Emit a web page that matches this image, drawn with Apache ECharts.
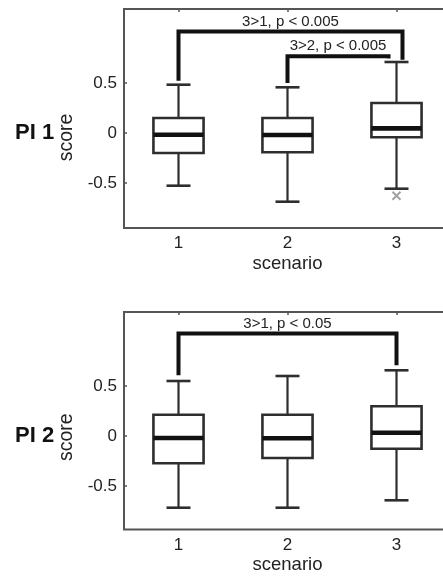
<!DOCTYPE html>
<html><head><meta charset="utf-8">
<script src="https://cdn.jsdelivr.net/npm/echarts@6/dist/echarts.min.js"></script>
<style>html,body{margin:0;padding:0;background:#fff}#c{width:443px;height:576px}</style>
</head><body><div id="c"></div>
<script>
// ---- data ----
const scenarios = [1, 2, 3];
const yTicks = [-0.5, 0, 0.5];
const panelNames = ['PI 1', 'PI 2'];

// PI 1 boxplot stats
const pi1Low  = [-0.527, -0.687, -0.557];
const pi1Q1   = [-0.200, -0.193, -0.043];
const pi1Med  = [-0.018, -0.020, 0.046];
const pi1Q3   = [0.150, 0.150, 0.300];
const pi1High = [0.483, 0.457, 0.710];
const pi1OutX = [3];
const pi1OutY = [-0.627];

// PI 2 boxplot stats
const pi2Low  = [-0.717, -0.717, -0.643];
const pi2Q1   = [-0.273, -0.220, -0.127];
const pi2Med  = [-0.020, -0.022, 0.032];
const pi2Q3   = [0.213, 0.213, 0.297];
const pi2High = [0.550, 0.600, 0.657];

// significance brackets (x from, x to, left leg end, right leg end, bar level, label)
const pi1BrFrom  = [1, 2];
const pi1BrTo    = [3.055, 2.927];
const pi1BrLeft  = [0.523, 0.500];
const pi1BrRight = [0.733, 0.745];
const pi1BrTop   = [1.016, 0.767];
const pi1BrText  = ['3>1, p < 0.005', '3>2, p < 0.005'];

const pi2BrFrom  = [1];
const pi2BrTo    = [3];
const pi2BrLeft  = [0.607];
const pi2BrRight = [0.707];
const pi2BrTop   = [1.024];
const pi2BrText  = ['3>1, p < 0.05'];

// ---- build ----
const FONT = "'Liberation Sans', Arial, Helvetica, sans-serif";
const DARK = '#2e2e2e';

function boxData(lo, q1, md, q3, hi) {
  return scenarios.map((x, i) => [x, lo[i], q1[i], md[i], q3[i], hi[i]]);
}
function brDataFull(f, t, l, r, top, txt) {
  return f.map((x, i) => [f[i], t[i], l[i], r[i], top[i], txt[i]]);
}

function renderBox(params, api) {
  const x = api.value(0);
  const lo = api.coord([x, api.value(1)]);
  const q1 = api.coord([x, api.value(2)]);
  const md = api.coord([x, api.value(3)]);
  const q3 = api.coord([x, api.value(4)]);
  const hi = api.coord([x, api.value(5)]);
  const bw = api.size([0.46, 0])[0];
  const cw = api.size([0.22, 0])[0];
  const cx = lo[0];
  const ls = { stroke: DARK, lineWidth: 2.2, fill: null };
  return {
    type: 'group',
    children: [
      { type: 'line', shape: { x1: cx, y1: q3[1], x2: cx, y2: hi[1] }, style: ls },
      { type: 'line', shape: { x1: cx, y1: q1[1], x2: cx, y2: lo[1] }, style: ls },
      { type: 'line', shape: { x1: cx - cw / 2, y1: hi[1], x2: cx + cw / 2, y2: hi[1] }, style: { stroke: DARK, lineWidth: 2.6 } },
      { type: 'line', shape: { x1: cx - cw / 2, y1: lo[1], x2: cx + cw / 2, y2: lo[1] }, style: { stroke: DARK, lineWidth: 2.6 } },
      { type: 'rect', shape: { x: cx - bw / 2, y: q3[1], width: bw, height: q1[1] - q3[1] }, style: { stroke: DARK, lineWidth: 2.6, fill: '#fff' } },
      { type: 'line', shape: { x1: cx - bw / 2, y1: md[1], x2: cx + bw / 2, y2: md[1] }, style: { stroke: '#111', lineWidth: 4.6 } }
    ]
  };
}

function renderBracket(params, api) {
  const f = api.value(0), t = api.value(1);
  const pL = api.coord([f, api.value(2)]);
  const pR = api.coord([t, api.value(3)]);
  const tL = api.coord([f, api.value(4)]);
  const tR = api.coord([t, api.value(4)]);
  return {
    type: 'group',
    children: [
      { type: 'polyline', shape: { points: [pL, tL, tR, pR] }, style: { stroke: '#111', lineWidth: 4, fill: null, lineJoin: 'miter' } },
      { type: 'text', style: { text: api.value(5), x: (tL[0] + tR[0]) / 2, y: tL[1] - 10, align: 'center', verticalAlign: 'middle', font: '15px ' + FONT, fill: '#222' } }
    ]
  };
}

const grids = [
  { left: 124, top: 9, width: 327, height: 219 },
  { left: 124, top: 312, width: 327, height: 217.5 }
];
const yRanges = [[-0.95, 1.24], [-0.935, 1.24]];
const tickStyle = { show: true, inside: true, length: 3, customValues: scenarios, lineStyle: { color: '#555', width: 1.5 } };

const option = {
  backgroundColor: '#fff',
  animation: false,
  grid: grids.map(g => Object.assign({ show: true, borderColor: '#555', borderWidth: 2, backgroundColor: 'transparent', containLabel: false, outerBoundsMode: 'none' }, g)),
  xAxis: [0, 1].map(i => ({
    gridIndex: i, type: 'value', min: 0.5, max: 3.5,
    name: 'scenario', nameLocation: 'middle', nameGap: 26,
    nameTextStyle: { fontFamily: FONT, fontSize: 18.5, color: '#222' },
    axisLine: { show: false },
    splitLine: { show: false },
    axisTick: tickStyle,
    axisLabel: { customValues: scenarios, margin: 7, fontFamily: FONT, fontSize: 17, color: '#222', formatter: v => String(v) }
  })).concat([0, 1].map(i => ({
    gridIndex: i, type: 'value', min: 0.5, max: 3.5, position: 'top',
    axisLine: { show: false }, splitLine: { show: false },
    axisTick: tickStyle, axisLabel: { show: false }
  }))),
  yAxis: [0, 1].map(i => ({
    gridIndex: i, type: 'value', min: yRanges[i][0], max: yRanges[i][1],
    name: 'score', nameLocation: 'middle', nameGap: 44, nameRotate: 90,
    nameTextStyle: { fontFamily: FONT, fontSize: 19.5, color: '#222', padding: [0, i === 0 ? 38 : 33, 0, 0] },
    axisLine: { show: false },
    splitLine: { show: false },
    axisTick: { show: true, inside: true, length: 3, customValues: yTicks, lineStyle: { color: '#555', width: 1.5 } },
    axisLabel: { customValues: yTicks, margin: 7, fontFamily: FONT, fontSize: 17, color: '#222',
      formatter: v => (Math.abs(v) < 1e-9 ? '0' : String(+v.toFixed(1))) }
  })),
  graphic: [
    { type: 'text', left: 15, top: 122, style: { text: panelNames[0], font: 'bold 22px ' + FONT, fill: '#111' } },
    { type: 'text', left: 15, top: 425, style: { text: panelNames[1], font: 'bold 22px ' + FONT, fill: '#111' } }
  ],
  series: [
    { type: 'custom', xAxisIndex: 0, yAxisIndex: 0, renderItem: renderBox, data: boxData(pi1Low, pi1Q1, pi1Med, pi1Q3, pi1High), encode: { x: 0, y: [1, 2, 3, 4, 5] }, silent: true },
    { type: 'custom', xAxisIndex: 1, yAxisIndex: 1, renderItem: renderBox, data: boxData(pi2Low, pi2Q1, pi2Med, pi2Q3, pi2High), encode: { x: 0, y: [1, 2, 3, 4, 5] }, silent: true },
    { type: 'scatter', xAxisIndex: 0, yAxisIndex: 0, data: pi1OutX.map((x, i) => [x, pi1OutY[i]]),
      symbol: 'path://M0,0L10,10M10,0L0,10', symbolSize: 8,
      itemStyle: { color: 'none', borderColor: '#8a8a8a', borderWidth: 2 }, silent: true, z: 3 },
    { type: 'custom', xAxisIndex: 0, yAxisIndex: 0, renderItem: renderBracket,
      dimensions: ['f', 't', 'l', 'r', 'top', { name: 'txt', type: 'ordinal' }],
      data: brDataFull(pi1BrFrom, pi1BrTo, pi1BrLeft, pi1BrRight, pi1BrTop, pi1BrText), encode: { x: [0, 1], y: [2, 3, 4] }, silent: true, z: 4 },
    { type: 'custom', xAxisIndex: 1, yAxisIndex: 1, renderItem: renderBracket,
      dimensions: ['f', 't', 'l', 'r', 'top', { name: 'txt', type: 'ordinal' }],
      data: brDataFull(pi2BrFrom, pi2BrTo, pi2BrLeft, pi2BrRight, pi2BrTop, pi2BrText), encode: { x: [0, 1], y: [2, 3, 4] }, silent: true, z: 4 }
  ]
};

const chart = echarts.init(document.getElementById('c'), null, { renderer: 'canvas' });
chart.setOption(option);
</script>
</body></html>
